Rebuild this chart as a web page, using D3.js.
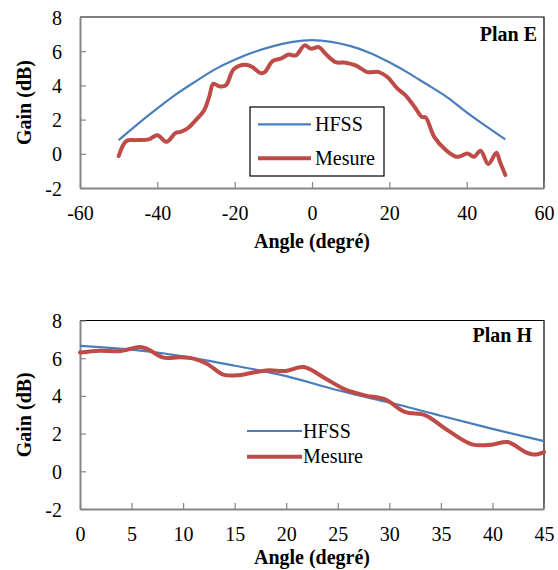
<!DOCTYPE html>
<html>
<head>
<meta charset="utf-8">
<script src="https://cdn.jsdelivr.net/npm/d3@7"></script>
<style>
  body { margin: 0; background: #fff; }
  svg text { font-family: "Liberation Serif", "DejaVu Serif", serif; fill: #000; }
</style>
</head>
<body>
<svg width="558" height="570"></svg>
<script>
// Plan E : simulation HFSS
const hfssAngleE = [-50, -45, -40, -35, -30, -25, -20, -15, -10, -5, 0, 5, 10, 15, 20, 25, 30, 35, 40, 45, 50];
const hfssGainE = [0.8, 1.75, 2.65, 3.5, 4.25, 4.95, 5.5, 5.95, 6.3, 6.55, 6.65, 6.55, 6.3, 5.9, 5.35, 4.72, 4.02, 3.3, 2.42, 1.62, 0.84];

// Plan E : mesure
const mesAngleE = [-50, -48, -45.6, -42.2, -40, -37.6, -35.3, -34, -32.2, -30.1, -27.9, -26.6, -25.5, -24, -22.3, -20.2, -17.2, -15.4, -13.3, -12.2, -10.2, -8.1, -6, -4.2, -1.9, -0.3, 1.8, 3.5, 6.1, 8.7, 11.3, 14.3, 17.3, 19.5, 22.1, 24.2, 26.8, 28.4, 29.4, 31.6, 34.6, 37.2, 38.5, 40.2, 41.9, 43.6, 45.6, 47.7, 48.6, 50];
const mesGainE = [-0.13, 0.75, 0.8, 0.84, 1.09, 0.7, 1.22, 1.28, 1.48, 1.96, 2.55, 3.33, 4.1, 3.95, 4.0, 4.96, 5.21, 5.07, 4.72, 4.78, 5.42, 5.56, 5.81, 5.75, 6.34, 6.15, 6.24, 5.85, 5.36, 5.33, 5.17, 4.78, 4.78, 4.49, 3.81, 3.42, 2.65, 2.16, 2.12, 0.99, 0.22, -0.17, -0.13, 0.02, -0.17, 0.18, -0.6, 0.06, -0.46, -1.24];

// Plan H : simulation HFSS
const hfssAngleH = [0, 5, 10, 15, 20, 25, 30, 35, 40, 45];
const hfssGainH = [6.65, 6.45, 6.1, 5.6, 5.05, 4.3, 3.65, 2.95, 2.25, 1.6];

// Plan H : mesure
const mesAngleH = [0, 1.9, 3.9, 5.8, 6.6, 8.1, 9.7, 11, 12.3, 13.9, 15.2, 16.8, 18.3, 19.9, 21.7, 23.8, 25.7, 27.6, 29.6, 31.5, 33.5, 35.4, 38, 39.9, 41.5, 43.2, 44.1, 45];
const mesGainH = [6.3, 6.4, 6.37, 6.6, 6.47, 6.03, 6.05, 5.98, 5.71, 5.13, 5.09, 5.24, 5.36, 5.32, 5.53, 4.92, 4.35, 4.03, 3.82, 3.15, 2.97, 2.27, 1.43, 1.41, 1.55, 1.02, 0.89, 1.02];

// Tick values
const xTicksE = [-60, -40, -20, 0, 20, 40, 60];
const xTicksH = [0, 5, 10, 15, 20, 25, 30, 35, 40, 45];
const yTicks = [-2, 0, 2, 4, 6, 8];

const seriesNames = ["HFSS", "Mesure"];
const blue = "#4A7EBB";
const red = "#BE4B48";
const serif = "'Liberation Serif', 'DejaVu Serif', serif";

const svg = d3.select("svg");

// Draw one panel (plot area, axes, curves, legend)
function drawPanel(p) {
    const x = d3.scaleLinear().domain(p.xDomain).range([p.left, p.right]);
    const y = d3.scaleLinear().domain([-2, 8]).range([p.bottom, p.top]);

    const g = svg.append("g");

    // plot area border (top / right in black)
    g.append("path")
     .attr("d", `M${p.left},${p.top}H${p.right}V${p.bottom}`)
     .attr("fill", "none")
     .attr("stroke", "#000")
     .attr("stroke-width", 1.2);

    // X axis with inside ticks (plain hyphen for negatives)
    const xAxis = g.append("g")
     .attr("transform", `translate(0,${p.bottom})`)
     .call(d3.axisBottom(x).tickValues(p.xTicks).tickFormat(d => String(d))
        .tickSizeInner(-6).tickSizeOuter(0));
    xAxis.attr("font-family", serif);
    xAxis.select(".domain").attr("stroke", "#868686").attr("stroke-width", 2);
    xAxis.selectAll(".tick line").attr("stroke", "#868686").attr("stroke-width", 1.2);
    xAxis.selectAll(".tick text")
     .attr("font-size", 20)
     .attr("fill", "#000")
     .attr("dy", null)
     .attr("y", 32);

    // Y axis with inside ticks
    const yAxis = g.append("g")
     .attr("transform", `translate(${p.left},0)`)
     .call(d3.axisLeft(y).tickValues(yTicks).tickFormat(d => String(d))
        .tickSizeInner(-6).tickSizeOuter(0));
    yAxis.attr("font-family", serif);
    yAxis.select(".domain").attr("stroke", "#868686").attr("stroke-width", 2);
    yAxis.selectAll(".tick line").attr("stroke", "#868686").attr("stroke-width", 1.2);
    yAxis.selectAll(".tick text")
     .attr("font-size", 20)
     .attr("fill", "#000")
     .attr("x", -18)
     .attr("dy", "0.35em");

    // axis titles
    g.append("text")
     .attr("transform", `translate(31,${(p.top + p.bottom) / 2}) rotate(-90)`)
     .attr("text-anchor", "middle")
     .attr("font-size", 20)
     .attr("font-weight", "bold")
     .text("Gain (dB)");

    g.append("text")
     .attr("x", (p.left + p.right) / 2)
     .attr("y", p.titleY)
     .attr("text-anchor", "middle")
     .attr("font-size", 20)
     .attr("font-weight", "bold")
     .text("Angle (degré)");

    // panel label
    g.append("text")
     .attr("x", p.labelX)
     .attr("y", p.labelY)
     .attr("text-anchor", "end")
     .attr("font-size", 20)
     .attr("font-weight", "bold")
     .text(p.label);

    // curves
    const smoothLine = d3.line()
     .x(d => x(d[0]))
     .y(d => y(d[1]))
     .curve(d3.curveNatural);

    const measLine = d3.line()
     .x(d => x(d[0]))
     .y(d => y(d[1]))
     .curve(d3.curveCatmullRom.alpha(0.5));

    g.append("path")
     .datum(d3.zip(p.hfssX, p.hfssY))
     .attr("d", smoothLine)
     .attr("fill", "none")
     .attr("stroke", blue)
     .attr("stroke-width", 2.2);

    g.append("path")
     .datum(d3.zip(p.mesX, p.mesY))
     .attr("d", measLine)
     .attr("fill", "none")
     .attr("stroke", red)
     .attr("stroke-width", 4)
     .attr("stroke-linejoin", "round")
     .attr("stroke-linecap", "round");

    // legend
    const lg = p.legend;
    if (lg.box) {
        g.append("rect")
         .attr("x", lg.box[0]).attr("y", lg.box[1])
         .attr("width", lg.box[2]).attr("height", lg.box[3])
         .attr("fill", "#fff")
         .attr("stroke", "#000")
         .attr("stroke-width", 1.2);
    }
    const colors = [blue, red];
    const widths = [2.2, 4];
    seriesNames.forEach((name, i) => {
        const ly = lg.rows[i];
        g.append("line")
         .attr("x1", lg.x1).attr("x2", lg.x2)
         .attr("y1", ly).attr("y2", ly)
         .attr("stroke", colors[i])
         .attr("stroke-width", widths[i]);
        g.append("text")
         .attr("x", lg.textX)
         .attr("y", ly + 6.5)
         .attr("font-size", 20)
         .text(name);
    });
}

// Plan E (top)
drawPanel({
    left: 80, right: 544, top: 17, bottom: 188,
    xDomain: [-60, 60], xTicks: xTicksE,
    hfssX: hfssAngleE, hfssY: hfssGainE,
    mesX: mesAngleE, mesY: mesGainE,
    titleY: 248, label: "Plan E", labelX: 537, labelY: 41,
    legend: { box: [250, 107, 134, 69], x1: 258, x2: 311, textX: 315, rows: [124.3, 158.3] }
});

// Plan H (bottom)
drawPanel({
    left: 80, right: 544, top: 320.5, bottom: 509,
    xDomain: [0, 45], xTicks: xTicksH,
    hfssX: hfssAngleH, hfssY: hfssGainH,
    mesX: mesAngleH, mesY: mesGainH,
    titleY: 564, label: "Plan H", labelX: 532, labelY: 342,
    legend: { box: null, x1: 247, x2: 302, textX: 303, rows: [431, 456.7] }
});
</script>
</body>
</html>
